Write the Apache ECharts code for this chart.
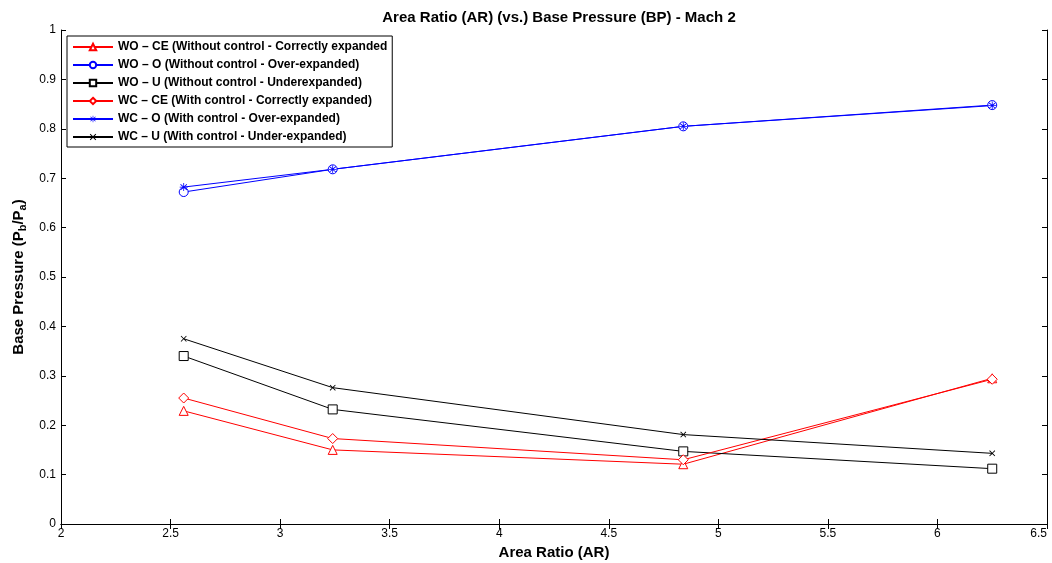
<!DOCTYPE html>
<html><head><meta charset="utf-8">
<script src="https://cdn.jsdelivr.net/npm/echarts@6/dist/echarts.min.js"></script>
<style>html,body{margin:0;padding:0;background:#fff}#c{width:1052px;height:563px}</style>
</head><body><div id="c"></div>
<script>
const areaRatio = [2.56, 3.24, 4.84, 6.25];
const woCE = [0.229, 0.150, 0.121, 0.295];
const woO  = [0.672, 0.718, 0.805, 0.848];
const woU  = [0.340, 0.232, 0.147, 0.112];
const wcCE = [0.255, 0.173, 0.130, 0.293];
const wcO  = [0.682, 0.718, 0.805, 0.847];
const wcU  = [0.375, 0.276, 0.181, 0.143];
const seriesNames = [
  'WO \u2013 CE (Without control - Correctly expanded',
  'WO \u2013 O (Without control - Over-expanded)',
  'WO \u2013 U (Without control - Underexpanded)',
  'WC \u2013 CE (With control - Correctly expanded)',
  'WC \u2013 O (With control - Over-expanded)',
  'WC \u2013 U (With control - Under-expanded)'
];
const xTicks = ['2','2.5','3','3.5','4','4.5','5','5.5','6','6.5'];
const yTicks = ['0','0.1','0.2','0.3','0.4','0.5','0.6','0.7','0.8','0.9','1'];

const crossPath = 'path://M1,0 L5,4 L9,0 L10,1 L6,5 L10,9 L9,10 L5,6 L1,10 L0,9 L4,5 L0,1 Z';
const starPath = 'path://M4.5,0 L5.5,0 L5.5,3.8 L8.6,1.2 L9.3,2 L6.2,4.5 L10,4.5 L10,5.5 L6.2,5.5 L9.3,8 L8.6,8.8 L5.5,6.2 L5.5,10 L4.5,10 L4.5,6.2 L1.4,8.8 L0.7,8 L3.8,5.5 L0,5.5 L0,4.5 L3.8,4.5 L0.7,2 L1.4,1.2 L4.5,3.8 Z';

function mk(name, data, color, symbol, size, hollow) {
  return {
    name: name, type: 'line',
    data: areaRatio.map((x, i) => [x, data[i]]),
    symbol: symbol, symbolSize: size, showSymbol: true,
    lineStyle: { color: color, width: 1 },
    itemStyle: hollow ? { color: '#fff', borderColor: color, borderWidth: 1 } : { color: color },
    emphasis: { disabled: true },
    animation: false, z: 3
  };
}

const FF = 'Liberation Sans, Arial, sans-serif';
const axisFont = { fontFamily: FF, fontSize: 12, color: '#000' };
const chart = echarts.init(document.getElementById('c'));
chart.setOption({
  backgroundColor: '#fff',
  animation: false,
  title: {
    text: 'Area Ratio (AR) (vs.) Base Pressure (BP) - Mach 2',
    left: 554, top: 5, textAlign: 'center',
    textStyle: { fontFamily: FF, fontSize: 15, fontWeight: 'bold', color: '#000' }
  },
  legend: {
    orient: 'vertical', left: 67, top: 36,
    backgroundColor: '#fff', borderColor: '#000', borderWidth: 1,
    padding: [4, 5, 3, 5], itemGap: 4, itemWidth: 40, itemHeight: 8,
    textStyle: { fontFamily: FF, fontSize: 12, fontWeight: 'bold', color: '#000', lineHeight: 14 },
    data: seriesNames
  },
  grid: { left: 61, right: 5, top: 30, bottom: 39, containLabel: false, outerBoundsMode: 'none' },
  xAxis: [{
    type: 'value', min: 2, max: 6.5, interval: 0.5,
    name: 'Area Ratio (AR)', nameLocation: 'middle', nameGap: 20,
    nameTextStyle: { fontFamily: FF, fontSize: 15, fontWeight: 'bold', color: '#000' },
    axisLine: { lineStyle: { color: '#000', width: 1 } },
    axisTick: { inside: true, length: 5, lineStyle: { color: '#000' } },
    axisLabel: Object.assign({ margin: 4, alignMaxLabel: 'right', formatter: (v) => xTicks[Math.round((v - 2) / 0.5)] }, axisFont),
    splitLine: { show: false }
  }, {
    type: 'value', min: 2, max: 6.5, interval: 0.5, position: 'top',
    axisLine: { lineStyle: { color: '#000', width: 1 } },
    axisTick: { inside: true, length: 5, lineStyle: { color: '#000' } },
    axisLabel: { show: false }, splitLine: { show: false }
  }],
  yAxis: [{
    type: 'value', min: 0, max: 1, interval: 0.1,
    name: 'Base Pressure (P{sub|b}/P{sub|a})', nameLocation: 'middle', nameGap: 32, nameRotate: 90,
    nameTextStyle: {
      fontFamily: FF, fontSize: 15, fontWeight: 'bold', color: '#000',
      rich: { sub: { fontFamily: FF, fontSize: 11, fontWeight: 'bold', color: '#000', padding: [9, 0, 0, 0] } }
    },
    axisLine: { lineStyle: { color: '#000', width: 1 } },
    axisTick: { inside: true, length: 5, lineStyle: { color: '#000' } },
    axisLabel: Object.assign({ margin: 5, formatter: (v) => yTicks[Math.round(v * 10)] }, axisFont),
    splitLine: { show: false }
  }, {
    type: 'value', min: 0, max: 1, interval: 0.1, position: 'right',
    axisLine: { lineStyle: { color: '#000', width: 1 } },
    axisTick: { inside: true, length: 5, lineStyle: { color: '#000' } },
    axisLabel: { show: false }, splitLine: { show: false }
  }],
  series: [
    mk(seriesNames[0], woCE, '#ff0000', 'triangle', 9, true),
    mk(seriesNames[1], woO, '#0000ff', 'circle', 9, true),
    mk(seriesNames[2], woU, '#000000', 'rect', 9, true),
    mk(seriesNames[3], wcCE, '#ff0000', 'diamond', 10, true),
    mk(seriesNames[4], wcO, '#0000ff', starPath, 8, false),
    mk(seriesNames[5], wcU, '#000000', crossPath, 6, false)
  ]
});
</script>
</body></html>
